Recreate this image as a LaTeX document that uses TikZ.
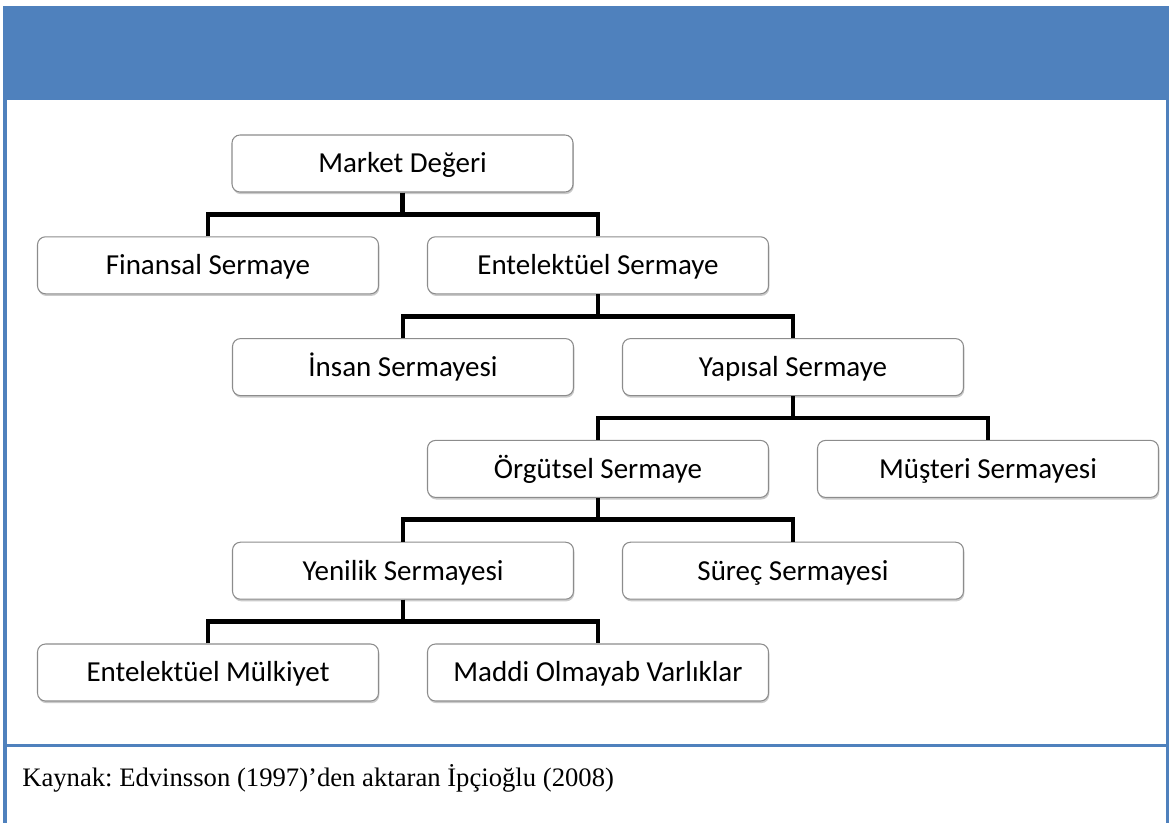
\documentclass[tikz,border=0pt]{standalone}
\usepackage{fontspec}
\setmainfont{Liberation Serif}
\newfontfamily\boxfont{Carlito}
\usetikzlibrary{shadows,calc}
\definecolor{frameblue}{HTML}{4F81BD}
\definecolor{boxedge}{HTML}{8C8C8C}
\frenchspacing
\begin{document}
\begin{tikzpicture}[x=0.75pt,y=-0.75pt,
  capbox/.style={draw=boxedge, line width=0.8pt, fill=white, rounded corners=6pt,
    minimum width=255.75pt, minimum height=42.75pt, inner sep=0pt,
    font=\boxfont\fontsize{21.75}{26}\selectfont, text height=14pt, text depth=0pt,
    drop shadow={shadow xshift=0.6pt, shadow yshift=-1.6pt, opacity=0.35, fill=black!60}},
  conn/.style={line width=3.6pt, line join=miter, draw=black},
  frameline/.style={draw=frameblue, line width=2.6pt}]
\useasboundingbox (0,0) rectangle (1169,823);

% header band and frame
\fill[frameblue] (3,6) rectangle (1169,100);
\draw[frameline] (5,100) -- (5,823);
\draw[frameline, line width=2pt] (1167.7,100) -- (1167.7,823);
\draw[frameline] (5,745.5) -- (1168,745.5);

% hierarchy boxes
\node[capbox] (md) at (402.5,163.5) {Market Değeri};
\node[capbox] (fs) at (208,265.3) {Finansal Sermaye};
\node[capbox] (es) at (598,265.3) {Entelektüel Sermaye};
\node[capbox] (is) at (403,367.1) {İnsan Sermayesi};
\node[capbox] (ys) at (793,367.1) {Yapısal Sermaye};
\node[capbox] (os) at (598,468.9) {Örgütsel Sermaye};
\node[capbox] (ms) at (988,468.9) {Müşteri Sermayesi};
\node[capbox] (yn) at (403,570.7) {Yenilik Sermayesi};
\node[capbox] (ss) at (793,570.7) {Süreç Sermayesi};
\node[capbox] (em) at (208,672.5) {Entelektüel Mülkiyet};
\node[capbox] (mo) at (598,672.5) {Maddi Olmayab Varlıklar};

% elbow connectors: parent -> bar -> two children
\foreach \p/\a/\b in {md/fs/es, es/is/ys, ys/os/ms, os/yn/ss, yn/em/mo}{
  \coordinate (bar) at ($(\p.south)!0.5!(\b.north)$);
  \draw[conn] (\a.north) -- (\a.north |- bar) -- (\b.north |- bar) -- (\b.north);
  \draw[conn] (\p.south) -- (\p.south |- bar);
}

% source line
\node[anchor=base west, inner sep=0pt, font=\fontsize{20}{24}\selectfont] (src) at (22,786)
  {Kaynak: Edvinsson (1997)’den aktaran İpçioğlu (2008)};
\end{tikzpicture}
\end{document}
